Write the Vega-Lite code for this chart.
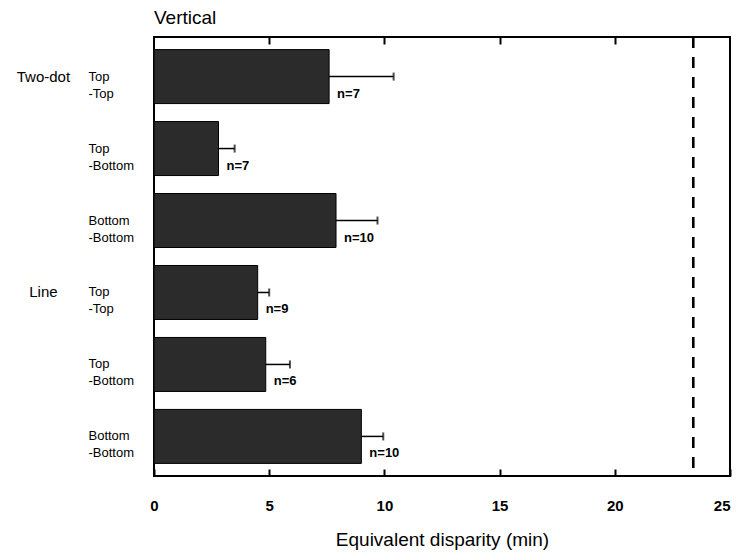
{
  "$schema": "https://vega.github.io/schema/vega-lite/v6.json",
  "width": 576,
  "height": 439,
  "autosize": "none",
  "padding": {"left": 154, "top": 37, "right": 7, "bottom": 84},
  "background": "white",
  "config": {
    "font": "Liberation Sans",
    "view": {"stroke": "black", "strokeWidth": 2}
  },
  "title": {
    "text": "Vertical",
    "anchor": "start",
    "frame": "group",
    "fontSize": 19,
    "fontWeight": "normal",
    "color": "black",
    "offset": 8
  },
  "data": {
    "values": [
      {"key": "Top|-Top|1", "group": "Two-dot", "value": 7.6, "hi": 10.4, "n": "n=7"},
      {"key": "Top|-Bottom|2", "group": "", "value": 2.8, "hi": 3.5, "n": "n=7"},
      {"key": "Bottom|-Bottom|3", "group": "", "value": 7.9, "hi": 9.7, "n": "n=10"},
      {"key": "Top|-Top|4", "group": "Line", "value": 4.5, "hi": 5.0, "n": "n=9"},
      {"key": "Top|-Bottom|5", "group": "", "value": 4.85, "hi": 5.9, "n": "n=6"},
      {"key": "Bottom|-Bottom|6", "group": "", "value": 9.0, "hi": 9.95, "n": "n=10"}
    ]
  },
  "encoding": {
    "y": {
      "field": "key",
      "type": "nominal",
      "sort": null,
      "scale": {"paddingInner": 0.25, "paddingOuter": 0.175},
      "axis": {
        "title": null,
        "domain": false,
        "ticks": false,
        "labelExpr": "slice(split(datum.value, '|'), 0, 2)",
        "labelAlign": "left",
        "labelPadding": 66,
        "labelFontSize": 13,
        "labelLineHeight": 17,
        "labelColor": "black"
      }
    }
  },
  "layer": [
    {
      "mark": {"type": "bar", "fill": "#2b2b2b", "stroke": "black", "strokeWidth": 1},
      "encoding": {
        "x": {
          "field": "value",
          "type": "quantitative",
          "scale": {"domain": [0, 25], "nice": false},
          "axis": {
            "title": "Equivalent disparity (min)",
            "titleFontSize": 19,
            "titleFontWeight": "normal",
            "titleColor": "black",
            "titleBaseline": "alphabetic",
            "titleY": 76,
            "offset": -7,
            "zindex": 2,
            "values": [0, 5, 10, 15, 20, 25],
            "grid": false,
            "domain": false,
            "ticks": true,
            "tickSize": 7,
            "tickWidth": 2,
            "tickColor": "black",
            "labelFontSize": 15,
            "labelFontWeight": "bold",
            "labelColor": "black",
            "labelPadding": 22,
            "labelFlush": false,
            "labelAlign": {"expr": "datum.value == 25 ? 'right' : 'center'"}
          }
        }
      }
    },
    {
      "mark": {"type": "rule", "stroke": "black", "strokeWidth": 1.5},
      "encoding": {
        "x": {"field": "value", "type": "quantitative", "axis": null},
        "x2": {"field": "hi"}
      }
    },
    {
      "mark": {"type": "tick", "orient": "vertical", "color": "black", "thickness": 2, "size": 8},
      "encoding": {
        "x": {"field": "hi", "type": "quantitative", "axis": null}
      }
    },
    {
      "mark": {"type": "text", "align": "left", "baseline": "middle", "dx": 8, "dy": 17, "fontSize": 13, "fontWeight": "bold", "color": "black"},
      "encoding": {
        "x": {"field": "value", "type": "quantitative", "axis": null},
        "text": {"field": "n"}
      }
    },
    {
      "transform": [{"filter": "datum.group != ''"}],
      "mark": {"type": "text", "align": "center", "baseline": "middle", "fontSize": 15, "color": "black", "dy": 0},
      "encoding": {
        "x": {"datum": -4.8, "type": "quantitative", "axis": null},
        "text": {"field": "group"}
      }
    },
    {
      "mark": {"type": "rule", "stroke": "black", "strokeWidth": 2, "strokeDash": [11, 9]},
      "encoding": {
        "x": {
          "datum": 23.4,
          "type": "quantitative",
          "axis": {
            "orient": "top",
            "offset": -7,
            "zindex": 2,
            "title": null,
            "labels": false,
            "domain": false,
            "grid": false,
            "ticks": true,
            "values": [5, 10, 15, 20],
            "tickSize": 7,
            "tickWidth": 2,
            "tickColor": "black"
          }
        },
        "y": {"value": 0},
        "y2": {"value": 439}
      }
    }
  ],
  "resolve": {"axis": {"x": "independent"}}
}
